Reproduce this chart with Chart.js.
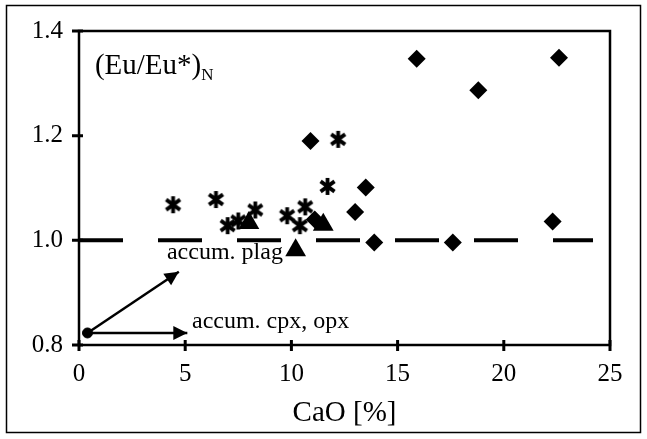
<!DOCTYPE html>
<html>
<head>
<meta charset="utf-8">
<title>(Eu/Eu*)N vs CaO</title>
<script src="https://cdn.jsdelivr.net/npm/chart.js@4.4.1/dist/chart.umd.min.js"></script>
<style>
  html, body { margin: 0; padding: 0; background: #fff; }
  #wrap { position: relative; width: 647px; height: 439px; }
</style>
</head>
<body>
<div id="wrap"><canvas id="chart" width="647" height="439"></canvas></div>
<script>
// ---- data ----
var diamondX = [15.9, 22.6, 18.8, 10.9, 13.5, 13.0, 11.1, 13.9, 17.6, 22.3];
var diamondY = [1.347, 1.349, 1.287, 1.190, 1.101, 1.054, 1.040, 0.996, 0.996, 1.036];

var triangleX = [8.0, 11.5, 10.2];
var triangleY = [1.033, 1.030, 0.981];

var starX = [4.43, 6.45, 7.0, 7.5, 8.3, 9.8, 10.4, 10.65, 11.7, 12.2];
var starY = [1.068, 1.078, 1.028, 1.037, 1.058, 1.047, 1.028, 1.064, 1.103, 1.193];

// reference line at Eu/Eu* = 1
var refX = [0, 24.2];
var refY = [1.0, 1.0];

// accumulation vectors (start point, then tips)
var arrowStart = [0.4, 0.823];
var plagTip = [4.7, 0.940];
var cpxTip = [5.1, 0.823];

var xTicks = [0, 5, 10, 15, 20, 25];
var yTicks = [0.8, 1.0, 1.2, 1.4];

function pts(xs, ys) {
  return xs.map(function (x, i) { return { x: x, y: ys[i] }; });
}

// asterisk marker: vertical bar plus an X, like the spreadsheet "*" marker
function makeAsterisk(size) {
  var c = document.createElement('canvas');
  c.width = size; c.height = size;
  var g = c.getContext('2d');
  var m = size / 2, r = size / 2 - 1;
  g.strokeStyle = '#000';
  g.lineWidth = 3.8;
  g.lineCap = 'butt';
  g.beginPath();
  g.moveTo(m, m - r); g.lineTo(m, m + r);
  g.moveTo(m - r * 0.82, m - r * 0.6); g.lineTo(m + r * 0.82, m + r * 0.6);
  g.moveTo(m - r * 0.82, m + r * 0.6); g.lineTo(m + r * 0.82, m - r * 0.6);
  g.stroke();
  return c;
}

var SERIF = "'Liberation Serif', 'Times New Roman', serif";

// frame, tick marks, arrowheads and text labels
var decor = {
  id: 'decor',
  afterDraw: function (chart) {
    var ctx = chart.ctx, a = chart.chartArea;
    var xs = chart.scales.x, ys = chart.scales.y;
    ctx.save();
    ctx.strokeStyle = '#000';
    ctx.fillStyle = '#000';

    // outer border of the figure
    ctx.lineWidth = 1.5;
    ctx.strokeRect(6.5, 5.5, 634, 427);

    // plot box
    ctx.lineWidth = 2.5;
    ctx.strokeRect(a.left, a.top, a.right - a.left, a.bottom - a.top);

    // tick marks crossing the axes
    ctx.lineWidth = 3;
    ctx.beginPath();
    xTicks.forEach(function (v) {
      var px = xs.getPixelForValue(v);
      ctx.moveTo(px, a.bottom - 5); ctx.lineTo(px, a.bottom + 6);
    });
    yTicks.forEach(function (v) {
      var py = ys.getPixelForValue(v);
      ctx.moveTo(a.left - 7, py); ctx.lineTo(a.left + 4, py);
    });
    ctx.stroke();

    // arrowheads
    [plagTip, cpxTip].forEach(function (tip) {
      var x0 = xs.getPixelForValue(arrowStart[0]), y0 = ys.getPixelForValue(arrowStart[1]);
      var x1 = xs.getPixelForValue(tip[0]), y1 = ys.getPixelForValue(tip[1]);
      var ang = Math.atan2(y1 - y0, x1 - x0);
      var len = 14, hw = 7;
      ctx.beginPath();
      ctx.moveTo(x1, y1);
      ctx.lineTo(x1 - len * Math.cos(ang) + hw * Math.sin(ang), y1 - len * Math.sin(ang) - hw * Math.cos(ang));
      ctx.lineTo(x1 - len * Math.cos(ang) - hw * Math.sin(ang), y1 - len * Math.sin(ang) + hw * Math.cos(ang));
      ctx.closePath();
      ctx.fill();
    });

    // text labels
    ctx.textBaseline = 'middle';
    ctx.textAlign = 'left';
    ctx.font = '24px ' + SERIF;
    ctx.fillText('accum. plag', xs.getPixelForValue(4.14), ys.getPixelForValue(0.977));
    ctx.fillText('accum. cpx, opx', xs.getPixelForValue(5.32), ys.getPixelForValue(0.844));

    ctx.font = '29px ' + SERIF;
    var lx = xs.getPixelForValue(0.75), ly = ys.getPixelForValue(1.333);
    ctx.fillText('(Eu/Eu*)', lx, ly);
    var w = ctx.measureText('(Eu/Eu*)').width;
    ctx.font = '17px ' + SERIF;
    ctx.fillText('N', lx + w, ly + 9);
    ctx.restore();
  }
};

new Chart(document.getElementById('chart'), {
  type: 'scatter',
  data: {
    datasets: [
      {
        label: 'Eu/Eu* = 1',
        data: pts(refX, refY),
        showLine: true,
        borderColor: '#000',
        borderWidth: 4,
        borderDash: [44, 35],
        pointRadius: 0
      },
      {
        label: 'accum. plag',
        data: [{ x: arrowStart[0], y: arrowStart[1] }, { x: plagTip[0], y: plagTip[1] }],
        showLine: true,
        borderColor: '#000',
        borderWidth: 2.5,
        pointRadius: 0
      },
      {
        label: 'accum. cpx, opx',
        data: [{ x: arrowStart[0], y: arrowStart[1] }, { x: cpxTip[0], y: cpxTip[1] }],
        showLine: true,
        borderColor: '#000',
        borderWidth: 2.5,
        pointRadius: 0
      },
      {
        label: 'start',
        data: [{ x: arrowStart[0], y: arrowStart[1] }],
        pointStyle: 'circle',
        pointRadius: 5,
        backgroundColor: '#000',
        borderColor: '#000'
      },
      {
        label: 'diamonds',
        data: pts(diamondX, diamondY),
        pointStyle: 'rectRot',
        pointRadius: 9,
        backgroundColor: '#000',
        borderColor: '#000',
        borderWidth: 0
      },
      {
        label: 'triangles',
        data: pts(triangleX, triangleY),
        pointStyle: 'triangle',
        pointRadius: 12,
        backgroundColor: '#000',
        borderColor: '#000',
        borderWidth: 0
      },
      {
        label: 'asterisks',
        data: pts(starX, starY),
        pointStyle: makeAsterisk(19)
      }
    ]
  },
  options: {
    responsive: false,
    animation: false,
    layout: { padding: { top: 30, right: 37, left: 0, bottom: 0 } },
    plugins: {
      legend: { display: false },
      tooltip: { enabled: false }
    },
    scales: {
      x: {
        type: 'linear',
        min: 0, max: 25,
        afterBuildTicks: function (s) { s.ticks = xTicks.map(function (v) { return { value: v }; }); },
        afterFit: function (s) { s.height = 94; },
        grid: { display: false, drawTicks: false },
        border: { display: false },
        ticks: {
          color: '#000',
          padding: 14,
          font: { family: SERIF, size: 25 },
          maxRotation: 0,
          callback: function (v) { return String(v); }
        },
        title: {
          display: true,
          text: 'CaO [%]',
          color: '#000',
          font: { family: SERIF, size: 29 },
          padding: { top: 4, bottom: 8 }
        }
      },
      y: {
        type: 'linear',
        min: 0.8, max: 1.4,
        afterBuildTicks: function (s) { s.ticks = yTicks.map(function (v) { return { value: v }; }); },
        afterFit: function (s) { s.width = 79; },
        grid: { display: false, drawTicks: false },
        border: { display: false },
        ticks: {
          color: '#000',
          padding: 16,
          font: { family: SERIF, size: 25 },
          callback: function (v) { return Number(v).toFixed(1); }
        }
      }
    }
  },
  plugins: [decor]
});
</script>
</body>
</html>
